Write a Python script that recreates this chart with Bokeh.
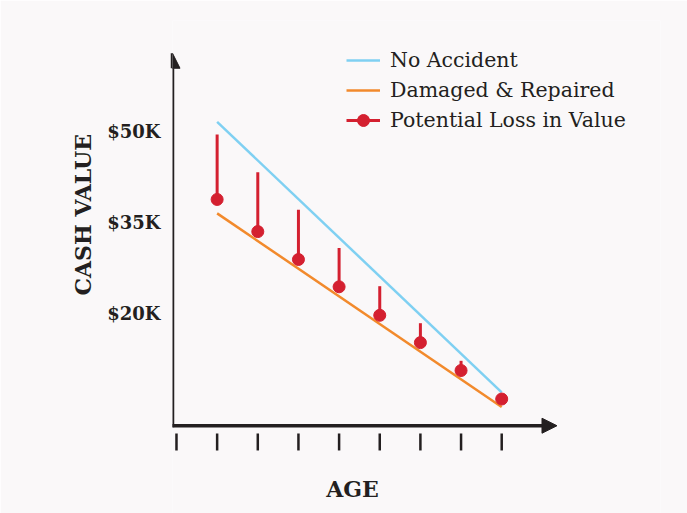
from bokeh.plotting import figure
from bokeh.models import (Arrow, NormalHead, Legend, LegendItem, Title,
                          FixedTicker, ColumnDataSource)
from bokeh.core.properties import value
from bokeh.embed import file_html
from bokeh.resources import INLINE

# ---- data (values in $K, age as tick index) ----
ages = [1, 2, 3, 4, 5, 6, 7, 8]
loss_top = [49.5, 43.3, 37.1, 30.8, 24.5, 18.4, 12.2, 5.9]
repaired_value = [38.8, 33.5, 28.9, 24.4, 19.7, 15.2, 10.6, 5.9]
no_accident_age = [1, 8]
no_accident_value = [51.6, 7.0]
damaged_age = [1, 8]
damaged_value = [36.5, 4.6]
age_ticks = [0, 1, 2, 3, 4, 5, 6, 7, 8]
value_ticks = [20, 35, 50]
value_labels = ["$20K", "$35K", "$50K"]

BG = "#faf8f9"
DARK = "#231f20"
BLUE = "#7fd0f2"
ORANGE = "#f28a2c"
RED = "#d42030"
SERIF = "DejaVu Serif"

p = figure(width=687, height=513, output_backend="svg", toolbar_location=None,
           x_range=(-0.098, 11.906), y_range=(-12.97, 68.3),
           x_axis_location=None,
           min_border_left=172, min_border_right=27, min_border_top=20,
           min_border_bottom=0)
p.background_fill_color = BG
p.border_fill_color = BG
p.outline_line_color = None
p.xgrid.visible = False
p.ygrid.visible = False

ya = p.yaxis[0]
ya.ticker = FixedTicker(ticks=value_ticks)
ya.major_label_overrides = {t: l for t, l in zip(value_ticks, value_labels)}
ya.axis_line_color = None
ya.major_tick_line_color = None
ya.minor_tick_line_color = None
ya.major_tick_out = 0
ya.major_tick_in = 0
ya.major_label_standoff = 12
ya.major_label_text_font = SERIF
ya.major_label_text_font_style = "bold"
ya.major_label_text_font_size = "18px"
ya.major_label_text_color = DARK

# axis arrows
x0, y0 = -0.098, 1.5
p.add_layout(Arrow(end=NormalHead(size=15, fill_color=DARK, line_color=DARK),
                   x_start=x0, y_start=y0 - 0.25, x_end=x0, y_end=62.9,
                   line_color=DARK, line_width=3.5))
p.add_layout(Arrow(end=NormalHead(size=15, fill_color=DARK, line_color=DARK),
                   x_start=x0 - 0.04, y_start=y0, x_end=9.36, y_end=y0,
                   line_color=DARK, line_width=3.5))

# age tick marks below the axis
p.segment(x0=age_ticks, y0=[0.22] * len(age_ticks),
          x1=age_ticks, y1=[-2.58] * len(age_ticks),
          line_color=DARK, line_width=2.5)

# data glyphs
r_blue = p.line(no_accident_age, no_accident_value, line_color=BLUE, line_width=2.5)
r_orange = p.line(damaged_age, damaged_value, line_color=ORANGE, line_width=2.5)
src = ColumnDataSource(dict(age=ages, top=loss_top, val=repaired_value))
r_seg = p.segment(x0="age", y0="val", x1="age", y1="top", source=src,
                  line_color=RED, line_width=3)
r_dot = p.scatter(x="age", y="val", source=src, size=12, fill_color=RED,
                  line_color=RED, marker="circle")

legend = Legend(items=[
    LegendItem(label="No Accident", renderers=[r_blue]),
    LegendItem(label="Damaged & Repaired", renderers=[r_orange]),
    LegendItem(label="Potential Loss in Value", renderers=[r_seg, r_dot]),
], location=(174, 378), orientation="vertical")
legend.padding = 0
legend.margin = 0
legend.spacing = 0
legend.glyph_width = 34
legend.glyph_height = 30
legend.label_height = 30
legend.label_standoff = 10
legend.label_text_font = SERIF
legend.label_text_font_size = "20.5px"
legend.label_text_color = DARK
legend.label_text_baseline = "middle"
legend.border_line_color = None
legend.background_fill_alpha = 0
p.add_layout(legend, "center")

# axis titles
p.add_layout(Title(text="CASH VALUE", align="left", offset=218,
                   text_font=SERIF, text_font_style="bold",
                   text_font_size="22px", text_color=DARK, standoff=18), "left")
p.text(x=[4.33], y=[-9.0], text=["AGE"], text_align="center",
       text_baseline="middle", text_font=value(SERIF), text_font_style="bold",
       text_font_size="22px", text_color=DARK)

open("out.html", "w").write(file_html(p, INLINE))
